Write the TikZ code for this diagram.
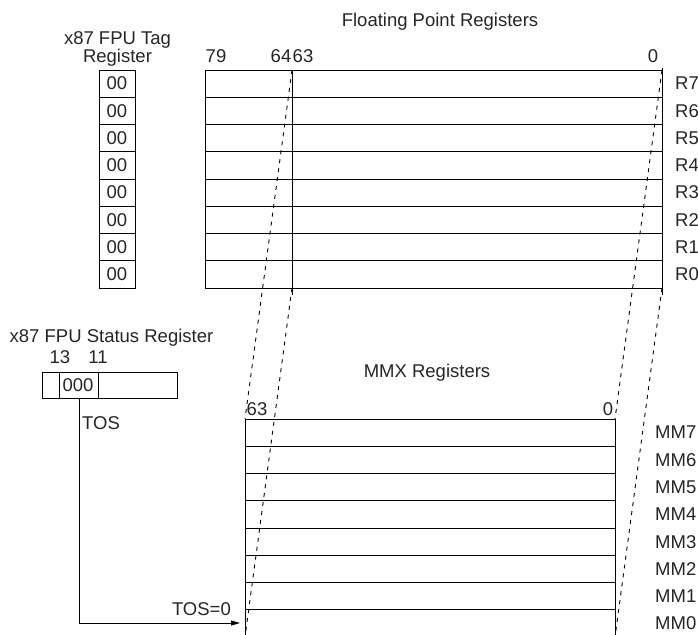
\documentclass[tikz,border=0pt]{standalone}
\usepackage{fontspec}
\setmainfont{Liberation Sans}
\usetikzlibrary{arrows.meta}
\begin{document}
\begin{tikzpicture}[x=1pt,y=-1pt,
  lbl/.style={font=\fontsize{18.5}{22}\selectfont, inner sep=0pt, text=black!85},
  box/.style={draw=black, line width=1pt},
  reg/.style={draw=black, line width=1pt},
  dsh/.style={draw=black, line width=0.9pt, dash pattern=on 4pt off 5pt},
  tosarrow/.style={draw=black, line width=1pt, -{Triangle[length=9pt,width=5pt]}}]
\useasboundingbox (0,0) rectangle (698,634);
\clip (0,0) rectangle (698,634);
\fill[white] (0,0) rectangle (698,634);

% ---------- Floating point registers ----------
\node[lbl, anchor=base] (fptitle) at (440,27) {Floating Point Registers};
\node[lbl, anchor=base] (b79) at (216,63) {79};
\node[lbl, anchor=base] (b64) at (281,63) {64};
\node[lbl, anchor=base] (b63) at (303,63) {63};
\node[lbl, anchor=base] (b0) at (653,63) {0};
\foreach \i in {0,...,8} {
  \draw[reg] (205,{70+27.25*\i}) -- (662,{70+27.25*\i});
}
\draw[reg] (205,70) -- (205,288);
\draw[reg] (292,70) -- (292,295);
\draw[reg] (662,68) -- (662,295);
\foreach \n [count=\k from 0] in {7,6,5,4,3,2,1,0} {
  \node[lbl, anchor=west] (r\n) at (675,{70+27.25*(\k+0.5)}) {R\n};
}

% ---------- Tag register ----------
\node[lbl, anchor=base] (tagt1) at (117.5,45) {x87 FPU Tag};
\node[lbl, anchor=base] (tagt2) at (117.5,63) {Register};
\draw[box] (99,70) rectangle (135,288);
\foreach \i in {1,...,7} {
  \draw[box] (99,{70+27.25*\i}) -- (135,{70+27.25*\i});
}
\foreach \k in {0,...,7} {
  \node[lbl] (tag\k) at (117,{70+27.25*(\k+0.5)}) {00};
}

% ---------- Status register ----------
\node[lbl, anchor=base] (sttitle) at (111.5,342) {x87 FPU Status Register};
\node[lbl, anchor=base] (s13) at (60,363) {13};
\node[lbl, anchor=base] (s11) at (98,363) {11};
\draw[box] (42,372) rectangle (177,398);
\draw[box] (59,372) -- (59,398);
\draw[box] (98,372) -- (98,398);
\node[lbl] (tosval) at (78,385) {000};
\coordinate (tosout) at (79,398);
\node[lbl, anchor=base west] (toslbl) at (82,429) {TOS};
\node[lbl, anchor=base east] (tos0) at (231,615) {TOS=0};
\coordinate (tosbend) at (79,623);
\coordinate (tostip) at (240,623);
\draw[tosarrow] (tosout) -- (tosbend) -- (tostip);

% ---------- MMX registers ----------
\node[lbl, anchor=base] (mmxtitle) at (427,377) {MMX Registers};
\node[lbl, anchor=base] (m63) at (257,415) {63};
\node[lbl, anchor=base] (m0) at (608,415) {0};
\foreach \i in {0,...,8} {
  \draw[reg] (245,{419+27.25*\i}) -- (615,{419+27.25*\i});
}
\draw[reg] (245,419) -- (245,640);
\draw[reg] (615,419) -- (615,640);
\foreach \n [count=\k from 0] in {7,6,5,4,3,2,1,0} {
  \node[lbl, anchor=west] (mm\n) at (655,{419+27.25*(\k+0.5)}) {MM\n};
}

% ---------- Mapping (dashed) ----------
\coordinate (fpLt) at (292,70);
\coordinate (fpLb) at (292,288);
\coordinate (fpRt) at (662,70);
\coordinate (fpRb) at (662,288);
\coordinate (mmLt) at (245,419);
\coordinate (mmLb) at (245,637);
\coordinate (mmRt) at (615,419);
\coordinate (mmRb) at (615,637);
\draw[dsh] (fpLt) -- (mmLt);
\draw[dsh] (fpLb) -- (mmLb);
\draw[dsh] (fpRt) -- (mmRt);
\draw[dsh] (fpRb) -- (mmRb);
\end{tikzpicture}
\end{document}
